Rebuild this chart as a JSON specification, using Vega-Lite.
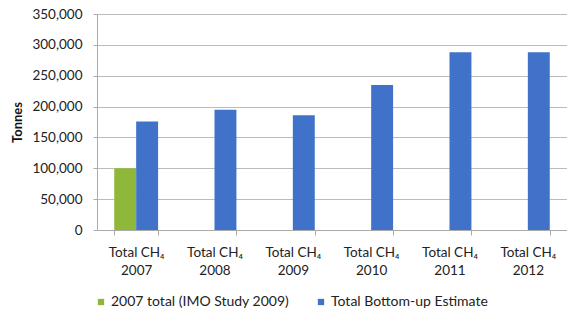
{
  "$schema": "https://vega.github.io/schema/vega-lite/v6.json",
  "width": 470,
  "height": 216,
  "autosize": {"type": "none"},
  "padding": {"left": 97, "top": 14, "right": 0, "bottom": 86},
  "background": "white",
  "config": {
    "font": "Lato",
    "view": {"stroke": null},
    "axis": {"labelFont": "Lato", "titleFont": "Lato", "labelColor": "#222", "titleColor": "#111"}
  },
  "data": {
    "values": [
      {"cat": "2007", "series": "2007 total (IMO Study 2009)", "value": 100000},
      {"cat": "2007", "series": "Total Bottom-up Estimate", "value": 176000},
      {"cat": "2008", "series": "Total Bottom-up Estimate", "value": 195000},
      {"cat": "2009", "series": "Total Bottom-up Estimate", "value": 186000},
      {"cat": "2010", "series": "Total Bottom-up Estimate", "value": 235000},
      {"cat": "2011", "series": "Total Bottom-up Estimate", "value": 288000},
      {"cat": "2012", "series": "Total Bottom-up Estimate", "value": 288000}
    ]
  },
  "mark": {"type": "bar"},
  "encoding": {
    "x": {
      "field": "cat",
      "type": "nominal",
      "sort": null,
      "scale": {"paddingInner": 0.44, "paddingOuter": 0.22},
      "axis": {
        "title": null,
        "labelAngle": 0,
        "labelExpr": "datum.value ? ['Total CH₄', datum.value] : ''",
        "labelFontSize": 13.5,
        "labelPadding": 10,
        "labelLineHeight": 18,
        "tickBand": "extent",
        "tickSize": 5,
        "tickColor": "#aaa",
        "domainColor": "#aaa",
        "grid": false
      }
    },
    "xOffset": {
      "field": "series",
      "type": "nominal",
      "scale": {"domain": ["2007 total (IMO Study 2009)", "Total Bottom-up Estimate"], "paddingInner": 0, "paddingOuter": 0}
    },
    "y": {
      "field": "value",
      "type": "quantitative",
      "scale": {"domain": [0, 350000]},
      "axis": {
        "title": "Tonnes",
        "titleFontWeight": "bold",
        "titleFontSize": 13,
        "titleX": -73,
        "format": ",.0f",
        "values": [0, 50000, 100000, 150000, 200000, 250000, 300000, 350000],
        "labelFontSize": 13.5,
        "labelPadding": 11,
        "tickSize": 4,
        "tickColor": "#aaa",
        "domainColor": "#aaa",
        "gridColor": "#bbb"
      }
    },
    "color": {
      "field": "series",
      "type": "nominal",
      "scale": {"domain": ["2007 total (IMO Study 2009)", "Total Bottom-up Estimate"], "range": ["#8fb83a", "#3f72c8"]},
      "legend": {
        "title": null,
        "orient": "none",
        "direction": "horizontal",
        "legendX": -3,
        "legendY": 281,
        "symbolType": "square",
        "symbolSize": 40,
        "symbolStrokeWidth": 0,
        "labelFontSize": 14,
        "labelLimit": 300,
        "labelColor": "#222",
        "columnPadding": 24,
        "labelOffset": 3
      }
    }
  }
}
